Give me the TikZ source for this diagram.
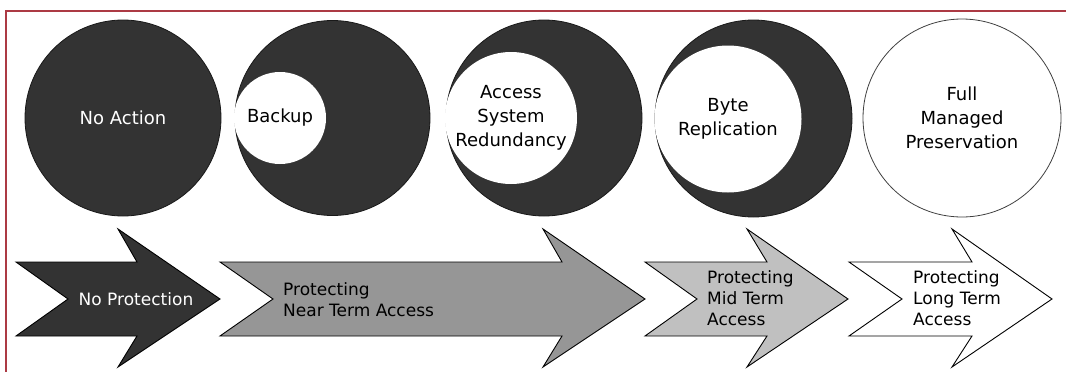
\documentclass[tikz,border=0pt]{standalone}
\usepackage{fontspec}
\setmainfont{DejaVu Sans}
\definecolor{dk}{HTML}{333333}
\definecolor{midgray}{HTML}{969696}
\definecolor{lightgray2}{HTML}{C0C0C0}
\definecolor{bord}{RGB}{172,58,68}
\begin{document}
\begin{tikzpicture}[x=1pt,y=-1pt,
  dark/.style={circle, fill=dk, draw=black!90, line width=0.8pt, inner sep=0pt},
  hole/.style={circle, fill=white, inner sep=0pt},
  ctext/.style={font=\fontsize{18}{24}\selectfont, align=center, inner sep=0pt},
  atext/.style={font=\fontsize{17}{21}\selectfont, align=left, inner sep=0pt},
  arrowshape/.style={draw=black, line width=0.9pt, line join=miter}]
\useasboundingbox (0,0) rectangle (1066,372);
\draw[bord, line width=1.6pt] (6,372) -- (6,11) -- (1066,11);
% circles
\node[dark, minimum size=196pt] (c1) at (123,118) {};
\node[ctext, text=white] (t1) at (c1.center) {No Action};
\node[dark, minimum size=195pt] (c2) at (332.5,118) {};
\node[hole, minimum size=92pt] (h2) at (280,118) {};
\node[ctext] (t2) at (h2.center) {Backup};
\node[dark, minimum size=196pt] (c3) at (544,118) {};
\node[hole, minimum size=132pt] (h3) at (511,118) {};
\node[ctext] (t3) at (h3.center) {Access\\System\\Redundancy};
\node[dark, minimum size=197pt] (c4) at (753.5,118.5) {};
\node[hole, minimum size=147pt] (h4) at (728,119) {};
\node[ctext] (t4) at (h4.center) {Byte\\Replication};
\node[circle, fill=white, draw=black!75, line width=0.8pt, inner sep=0pt, minimum size=198pt] (c5) at (962,118) {};
\node[ctext] (t5) at (c5.center) {Full\\Managed\\Preservation};
% arrows
\draw[arrowshape, fill=dk] (16,262) -- (137,262) -- (118,229) -- (220,299) -- (118,367) -- (137,336) -- (16,336) -- (68,299) -- cycle;
\draw[arrowshape, fill=midgray] (220,262) -- (562,262) -- (543,229) -- (645,299) -- (543,367) -- (562,336) -- (220,336) -- (273,299) -- cycle;
\draw[arrowshape, fill=lightgray2] (645,262) -- (767,262) -- (747,229) -- (848,299) -- (747,367) -- (767,336) -- (645,336) -- (697,299) -- cycle;
\draw[arrowshape, fill=white] (849,262) -- (972,262) -- (952,229) -- (1052,299) -- (952,367) -- (972,336) -- (849,336) -- (902,299) -- cycle;
\node[atext, text=white] (a1) at (136,299) {No Protection};
\node[atext, anchor=west] (a2) at (283,300) {Protecting\\Near Term Access};
\node[atext, anchor=west] (a3) at (707,298) {Protecting\\Mid Term\\Access};
\node[atext, anchor=west] (a4) at (913,298) {Protecting\\Long Term\\Access};
\end{tikzpicture}
\end{document}
